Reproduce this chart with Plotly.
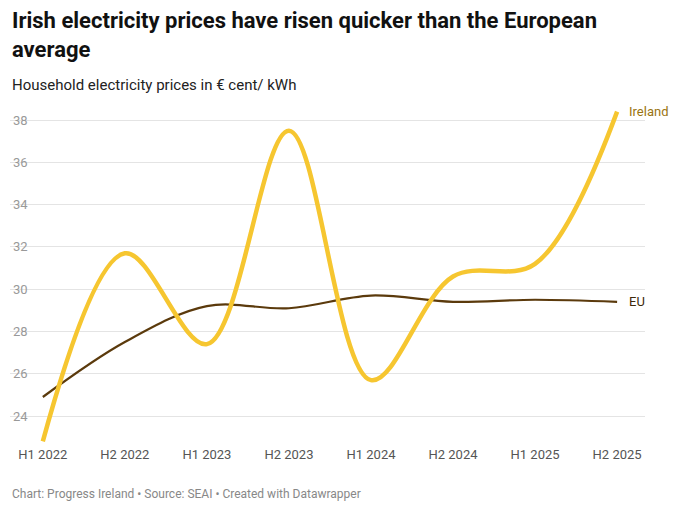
import plotly.graph_objects as go

periods = ["H1 2022", "H2 2022", "H1 2023", "H2 2023", "H1 2024", "H2 2024", "H1 2025", "H2 2025"]
ireland = [22.8, 31.7, 27.4, 37.5, 25.7, 30.6, 31.2, 38.4]
eu = [24.9, 27.5, 29.2, 29.1, 29.7, 29.4, 29.5, 29.4]
y_ticks = [24, 26, 28, 30, 32, 34, 36, 38]

x = list(range(len(periods)))

fig = go.Figure()
fig.add_trace(go.Scatter(x=x, y=eu, mode="lines", name="EU",
                         line=dict(color="#5b3a0c", width=2.2, shape="spline", smoothing=1.0)))
fig.add_trace(go.Scatter(x=x, y=ireland, mode="lines", name="Ireland",
                         line=dict(color="#f6c630", width=4.5, shape="spline", smoothing=1.0)))

fig.add_annotation(x=x[-1], y=ireland[-1], text="Ireland", xanchor="left", xshift=10,
                   showarrow=False, font=dict(color="#9a7410", size=13))
fig.add_annotation(x=x[-1], y=eu[-1], text="EU", xanchor="left", xshift=10,
                   showarrow=False, font=dict(color="#3d2a0a", size=13))

fig.add_annotation(xref="paper", yref="paper", x=0.0, y=1.0, yshift=94, xanchor="left", yanchor="top",
                   text="<b>Irish electricity prices have risen quicker than the European<br>average</b>",
                   showarrow=False, align="left", font=dict(size=22, color="#111"))
fig.add_annotation(xref="paper", yref="paper", x=0.0, y=1.0, yshift=26, xanchor="left", yanchor="top",
                   text="Household electricity prices in € cent/ kWh",
                   showarrow=False, align="left", font=dict(size=15, color="#222"))
fig.add_annotation(xref="paper", yref="paper", x=0.0, y=0.0, yshift=-40, xanchor="left", yanchor="top",
                   text="Chart: Progress Ireland • Source: SEAI • Created with Datawrapper",
                   showarrow=False, align="left", font=dict(size=12, color="#888"))

fig.update_layout(
    width=672, height=503,
    margin=dict(l=2, r=35, t=92, b=66),
    paper_bgcolor="white", plot_bgcolor="white",
    showlegend=False,
    font=dict(family="Roboto", color="#666"),
    xaxis=dict(tickvals=x, ticktext=periods, range=[-0.4, 7.34], showgrid=False,
               zeroline=False, tickfont=dict(size=13, color="#555")),
    yaxis=dict(tickvals=y_ticks, range=[22.63, 38.95], ticklabelposition="inside",
               gridcolor="#e4e4e4", zeroline=False, tickfont=dict(size=13, color="#999")),
)

fig.write_html("out.html")
